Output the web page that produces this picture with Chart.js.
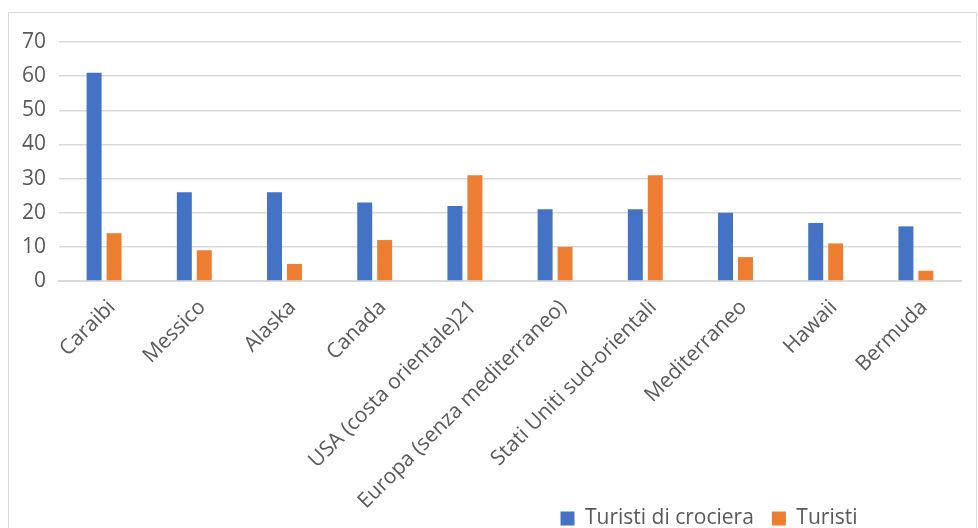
<!DOCTYPE html>
<html lang="it">
<head>
  <meta charset="UTF-8">
  <title>Turisti di crociera</title>
  <script src="https://cdn.jsdelivr.net/npm/chart.js@4.4.1/dist/chart.umd.min.js"></script>
  <style>
    html, body { margin: 0; padding: 0; background: #fff; overflow: hidden; }
    .frame {
      position: absolute;
      left: 8px; top: 12px;
      width: 969px; height: 570px;
      border: 1px solid #d9d9d9;
      box-sizing: border-box;
    }
    .frame canvas { display: block; }
  </style>
</head>
<body>
  <div class="frame">
    <canvas id="chart" width="967" height="552"></canvas>
  </div>
  <script>
    const categories = ['Caraibi', 'Messico', 'Alaska', 'Canada', 'USA (costa orientale)21',
      'Europa (senza mediterraneo)', 'Stati Uniti sud-orientali', 'Mediterraneo', 'Hawaii', 'Bermuda'];
    const crocieraValues = [61, 26, 26, 23, 22, 21, 21, 20, 17, 16];
    const turistiValues = [14, 9, 5, 12, 31, 10, 31, 7, 11, 3];
    const yTicks = [0, 10, 20, 30, 40, 50, 60, 70];

    const grey = '#595959';
    const font = "'Open Sans', sans-serif";

    // sposta la legenda verso destra e in alto come nell'originale
    const legendShift = {
      id: 'legendShift',
      afterLayout(chart) {
        const lg = chart.legend;
        lg.left = 456;
        lg.right = 456 + 488;
        lg.top -= 26;
        lg.bottom -= 26;
      }
    };

    new Chart(document.getElementById('chart'), {
      type: 'bar',
      data: {
        labels: categories,
        datasets: [
          { label: 'Turisti di crociera', data: crocieraValues, backgroundColor: '#4472C4' },
          { label: 'Turisti', data: turistiValues, backgroundColor: '#ED7D31' }
        ]
      },
      options: {
        responsive: false,
        animation: false,
        categoryPercentage: 0.4425,
        barPercentage: 0.75,
        layout: { padding: { top: 29, right: 15, left: 0, bottom: 0 } },
        plugins: {
          tooltip: { enabled: false },
          legend: {
            position: 'bottom',
            align: 'center',
            labels: {
              color: grey,
              font: { family: font, size: 21 },
              boxWidth: 14,
              boxHeight: 14,
              padding: 18
            }
          }
        },
        scales: {
          x: {
            grid: { display: false, drawTicks: false },
            border: { color: '#d9d9d9', width: 2 },
            ticks: {
              color: grey,
              font: { family: font, size: 21 },
              maxRotation: 45,
              minRotation: 45,
              autoSkip: false,
              labelOffset: 8,
              padding: 14
            },
            afterFit(scale) { scale.height = 235; }
          },
          y: {
            min: 0,
            max: 70,
            afterBuildTicks(scale) { scale.ticks = yTicks.map(v => ({ value: v })); },
            grid: { color: '#d9d9d9', lineWidth: 1.5, drawTicks: false },
            border: { display: false },
            ticks: {
              color: grey,
              font: { family: font, size: 21 },
              padding: 13
            },
            afterFit(scale) { scale.width = 50; }
          }
        }
      },
      plugins: [legendShift]
    });
  </script>
</body>
</html>
